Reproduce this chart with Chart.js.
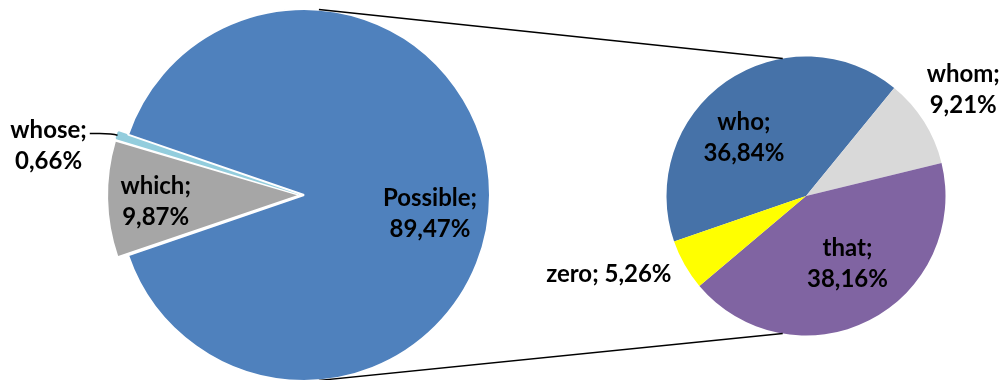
<!DOCTYPE html>
<html>
<head>
<meta charset="utf-8">
<script src="https://cdn.jsdelivr.net/npm/chart.js@4/dist/chart.umd.min.js"></script>
<style>
  html, body { margin: 0; padding: 0; background: #fff; }
  #wrap { position: relative; width: 1004px; height: 380px; overflow: hidden; }
  canvas { position: absolute; }
  #mainPie { left: 104px; top: -5px; }
  #subPie { left: 656px; top: 46px; }
  #overlay { left: 0; top: 0; pointer-events: none; }
</style>
</head>
<body>
<div id="wrap">
  <canvas id="mainPie" width="400" height="400"></canvas>
  <canvas id="subPie" width="300" height="300"></canvas>
  <canvas id="overlay" width="1004" height="380"></canvas>
</div>
<script>
// main pie: "which" and "whose" pulled out, "Possible" is broken down on the right
const mainLabels = ['which', 'whose', 'Possible'];
const mainValues = [9.87, 0.66, 89.47];
const mainColors = ['#a6a6a6', '#93cddd', '#4f81bd'];

const subLabels = ['who', 'whom', 'that', 'zero'];
const subValues = [36.84, 9.21, 38.16, 5.26];
const subColors = ['#4672a8', '#d9d9d9', '#8064a2', '#ffff00'];

// label placement: distance as fraction of radius, turn (deg) from slice middle
const mainLabelDist = [0.745, 1.346, 0.685];
const mainLabelTurn = [-1.5, -7.2, 8.6];
const subLabelDist = [0.61, 1.36, 0.57, 1.52];
const subLabelTurn = [-12, -1.8, -4.5, 8];
const oneLineLabels = ['zero'];
const outsideWithLeader = ['whose'];

const FONT = 'bold 24px Lato, "Open Sans", sans-serif';
const LINE_GAP = 31;

// pulled-out part sits centred on the left side
const mainTotal = mainValues.reduce((a, b) => a + b, 0);
const pulledOut = (mainValues[0] + mainValues[1]) / mainTotal * 360;
const mainRotation = 270 - pulledOut / 2;

const mainChart = new Chart(document.getElementById('mainPie'), {
    type: 'pie',
    data: {
        labels: mainLabels,
        datasets: [{
            data: mainValues,
            backgroundColor: mainColors,
            borderColor: ['#ffffff', mainColors[1], '#ffffff'],
            borderWidth: [0, 2, 2],
            offset: [28, 20, 0]
        }]
    },
    options: {
        responsive: false,
        animation: false,
        rotation: mainRotation,
        radius: 186,
        layout: { padding: 0 },
        plugins: { legend: { display: false }, tooltip: { enabled: false } }
    }
});

const subChart = new Chart(document.getElementById('subPie'), {
    type: 'pie',
    data: {
        labels: subLabels,
        datasets: [{
            data: subValues,
            backgroundColor: subColors,
            borderWidth: 0
        }]
    },
    options: {
        responsive: false,
        animation: false,
        rotation: 251,
        radius: 139.5,
        layout: { padding: 0 },
        plugins: { legend: { display: false }, tooltip: { enabled: false } }
    }
});

function fmt(v) {
    return v.toFixed(2).replace('.', ',') + '%';
}

// same shift that Chart.js applies to an arc with an offset
function arcShift(arc, off) {
    const circ = arc.endAngle - arc.startAngle;
    const fix = 1 - Math.sin(Math.min(Math.PI, circ));
    return off / 4 * (1 + fix);
}

const octx = document.getElementById('overlay').getContext('2d');

function drawLabels(chart, labels, values, dist, turn) {
    const c = chart.canvas;
    const meta = chart.getDatasetMeta(0);
    const offsets = chart.data.datasets[0].offset || [];
    octx.font = FONT;
    octx.fillStyle = '#000';
    octx.textAlign = 'center';
    octx.textBaseline = 'middle';
    meta.data.forEach((arc, i) => {
        const mid = (arc.startAngle + arc.endAngle) / 2;
        const off = arcShift(arc, offsets[i] || 0);
        const cx = c.offsetLeft + arc.x + off * Math.cos(mid);
        const cy = c.offsetTop + arc.y + off * Math.sin(mid);
        const a = mid + turn[i] * Math.PI / 180;
        const r = arc.outerRadius * dist[i];
        const lx = cx + r * Math.cos(a);
        const ly = cy + r * Math.sin(a);
        const name = labels[i] + ';';
        const val = fmt(values[i]);
        if (oneLineLabels.includes(labels[i])) {
            octx.fillText(name + ' ' + val, lx, ly);
        } else {
            octx.fillText(name, lx, ly - LINE_GAP / 2);
            octx.fillText(val, lx, ly + LINE_GAP / 2);
        }
        if (outsideWithLeader.includes(labels[i])) {
            // leader from end of the name to the slice edge
            const ex = cx + arc.outerRadius * Math.cos(mid);
            const ey = cy + arc.outerRadius * Math.sin(mid);
            const sx = lx + octx.measureText(name).width / 2 + 3;
            const sy = ly - LINE_GAP / 2 + 3;
            octx.beginPath();
            octx.strokeStyle = '#000';
            octx.lineWidth = 1.5;
            octx.moveTo(sx, sy);
            octx.lineTo(sx + 10, sy);
            octx.quadraticCurveTo(ex - 5, sy, ex, ey);
            octx.stroke();
        }
    });
}

function edgePoint(chart, deg) {
    const c = chart.canvas;
    const arc = chart.getDatasetMeta(0).data[0];
    const a = deg * Math.PI / 180;
    return [c.offsetLeft + arc.x + arc.outerRadius * Math.cos(a),
            c.offsetTop + arc.y + arc.outerRadius * Math.sin(a)];
}

// connector lines between the two pies
octx.strokeStyle = '#000';
octx.lineWidth = 1.5;
[[-85.4, -99.6], [85.4, 99.6]].forEach(([la, ra]) => {
    const p1 = edgePoint(mainChart, la);
    const p2 = edgePoint(subChart, ra);
    octx.beginPath();
    octx.moveTo(p1[0], p1[1]);
    octx.lineTo(p2[0], p2[1]);
    octx.stroke();
});

drawLabels(mainChart, mainLabels, mainValues, mainLabelDist, mainLabelTurn);
drawLabels(subChart, subLabels, subValues, subLabelDist, subLabelTurn);
</script>
</body>
</html>
